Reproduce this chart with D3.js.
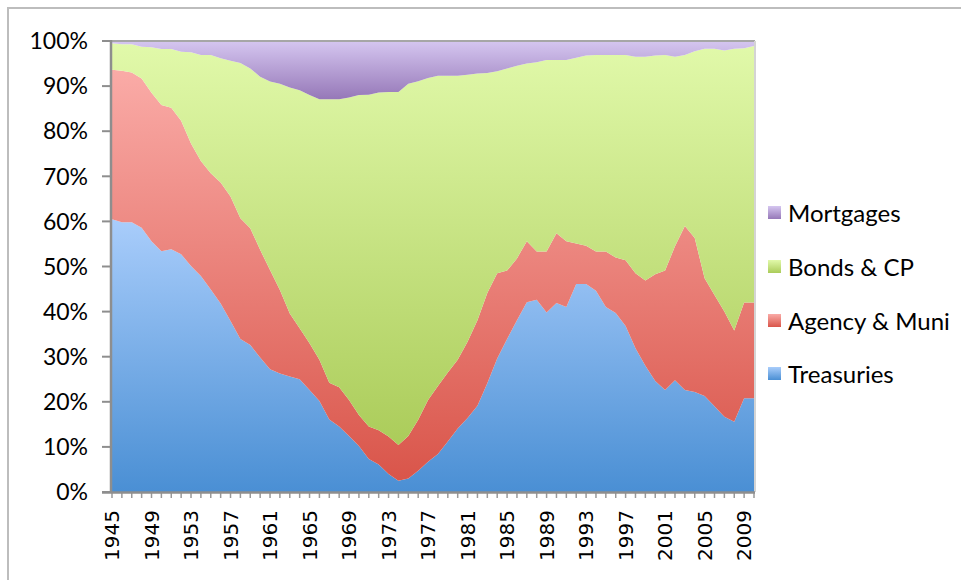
<!DOCTYPE html>
<html>
<head>
<meta charset="utf-8">
<script src="https://cdn.jsdelivr.net/npm/d3@7"></script>
<style>
body{margin:0;background:#fff;}
</style>
</head>
<body>
<script>
var w = 961;
var h = 580;

var years = d3.range(1945, 2011);
var tickYears = [1945,1949,1953,1957,1961,1965,1969,1973,1977,1981,1985,1989,1993,1997,2001,2005,2009];
var yTicks = [0,10,20,30,40,50,60,70,80,90,100];
var seriesNames = ["Treasuries","Agency & Muni","Bonds & CP","Mortgages"];

// shares in % per year, 1945..2010
var treasuries = [60.5,59.8,59.8,58.6,55.6,53.4,53.8,52.7,50.1,47.9,44.9,41.8,37.9,33.9,32.6,29.8,27.2,26.3,25.6,25.0,
  22.6,20.2,16.1,14.5,12.4,10.2,7.3,6.1,4.0,2.5,3.0,4.7,6.7,8.4,11.2,14.1,16.4,19.1,24.1,29.6,
  33.9,38.1,42.1,42.6,39.8,41.9,41.0,46.1,46.1,44.6,41.0,39.7,36.8,31.9,28.0,24.6,22.6,24.8,22.6,22.2,
  21.3,19.0,16.7,15.6,20.8,20.8];
var agencyMuni = [33.1,33.6,33.2,33.1,32.9,32.4,31.4,29.6,27.2,25.5,25.8,26.8,27.6,26.8,25.9,23.9,22.0,18.5,14.0,11.3,
  10.4,9.1,8.1,8.7,8.0,6.9,7.2,7.6,8.3,7.9,9.4,11.3,13.7,15.1,15.3,15.2,16.9,19.0,20.0,18.9,
  15.2,13.7,13.5,10.7,13.5,15.5,14.6,9.0,8.5,8.7,12.3,12.3,14.6,16.6,18.9,23.7,26.5,29.7,36.4,34.1,
  26.1,24.7,23.3,20.2,21.2,21.2];
var bondsCP = [5.9,5.9,6.3,7.0,10.1,12.4,13.0,15.3,20.2,23.5,26.2,27.6,30.1,34.4,35.4,38.4,41.8,45.7,50.1,52.8,
  55.0,57.8,62.9,63.9,67.1,70.9,73.6,74.9,76.4,78.3,78.1,75.1,71.4,68.8,65.8,63.0,59.2,54.7,48.8,44.8,
  44.8,42.7,39.4,42.0,42.5,38.4,40.2,41.2,42.2,43.6,43.6,44.9,45.5,48.0,49.6,48.5,47.8,42.0,37.9,41.4,
  50.9,54.6,57.9,62.5,56.4,56.9];
var mortgages = [0.5,0.7,0.7,1.3,1.4,1.8,1.8,2.4,2.5,3.1,3.1,3.8,4.4,4.9,6.1,7.9,9.0,9.5,10.3,10.9,
  12.0,12.9,12.9,12.9,12.5,12.0,11.9,11.4,11.3,11.3,9.5,8.9,8.2,7.7,7.7,7.7,7.5,7.2,7.1,6.7,
  6.1,5.5,5.0,4.7,4.2,4.2,4.2,3.7,3.2,3.1,3.1,3.1,3.1,3.5,3.5,3.2,3.1,3.5,3.1,2.3,
  1.7,1.7,2.1,1.7,1.6,1.1];

var colorsTop = ["#a9cdfb","#faaba7","#e1f9aa","#d5c6f0"];
var colorsBottom = ["#4a8fd4","#d9554a","#abcc5a","#9678b8"];

var rows = years.map(function(yr, i){
    return {"year": yr, "Treasuries": treasuries[i], "Agency & Muni": agencyMuni[i],
            "Bonds & CP": bondsCP[i], "Mortgages": mortgages[i]};
});

var pLeft = 112, pRight = 754, pTop = 41, pBottom = 492;

var svg = d3.select("body")
            .append("svg")
            .attr("width", w)
            .attr("height", h);

var defs = svg.append("defs");
seriesNames.forEach(function(n, i){
    var g = defs.append("linearGradient")
        .attr("id", "grad" + i)
        .attr("x1", 0).attr("y1", 0).attr("x2", 0).attr("y2", 1);
    g.append("stop").attr("offset", "0%").attr("stop-color", colorsTop[i]);
    g.append("stop").attr("offset", "100%").attr("stop-color", colorsBottom[i]);
});

// outer frame
svg.append("rect")
    .attr("x", 8).attr("y", 8)
    .attr("width", 1000).attr("height", 1000)
    .attr("fill", "none")
    .attr("stroke", "#bdbdbd")
    .attr("stroke-width", 2);

var x = d3.scaleLinear().domain([1945, 2010]).range([pLeft, pRight]);
var y = d3.scaleLinear().domain([0, 1]).range([pBottom, pTop]);

var stack = d3.stack().keys(seriesNames).offset(d3.stackOffsetExpand);
var layers = stack(rows);

var area = d3.area()
    .x(function(d){ return x(d.data.year); })
    .y0(function(d){ return y(d[0]); })
    .y1(function(d){ return y(d[1]); });

svg.append("g")
    .selectAll("path")
    .data(layers)
    .enter()
    .append("path")
    .attr("d", area)
    .attr("fill", function(d, i){ return "url(#grad" + i + ")"; });

// plot border
svg.append("line")
    .attr("x1", pLeft).attr("x2", pRight + 1)
    .attr("y1", pTop).attr("y2", pTop)
    .attr("stroke", "#a6a6a6").attr("stroke-width", 2);
svg.append("line")
    .attr("x1", pRight + 1).attr("x2", pRight + 1)
    .attr("y1", pTop).attr("y2", pBottom)
    .attr("stroke", "#d4d4d4").attr("stroke-width", 2);

// y axis
var yAxis = svg.append("g");
yAxis.append("line")
    .attr("x1", pLeft - 1).attr("x2", pLeft - 1)
    .attr("y1", pTop - 1).attr("y2", pBottom + 1)
    .attr("stroke", "#8e8e8e").attr("stroke-width", 2.5);
yAxis.selectAll(".tk")
    .data(yTicks)
    .enter()
    .append("line")
    .attr("x1", pLeft - 10).attr("x2", pLeft - 1)
    .attr("y1", function(d){ return y(d / 100); })
    .attr("y2", function(d){ return y(d / 100); })
    .attr("stroke", "#8e8e8e").attr("stroke-width", 2);
yAxis.selectAll("text")
    .data(yTicks)
    .enter()
    .append("text")
    .attr("x", 88)
    .attr("y", function(d){ return y(d / 100); })
    .attr("dy", "0.36em")
    .attr("text-anchor", "end")
    .attr("font-family", "Lato, sans-serif")
    .attr("font-size", 23)
    .attr("fill", "#000")
    .text(function(d){ return d + "%"; });

// x axis
var xAxis = svg.append("g");
xAxis.selectAll(".tk")
    .data(years)
    .enter()
    .append("line")
    .attr("x1", function(d){ return x(d); })
    .attr("x2", function(d){ return x(d); })
    .attr("y1", pBottom).attr("y2", pBottom + 6)
    .attr("stroke", "#9a9a9a").attr("stroke-width", 1.5);
xAxis.append("line")
    .attr("x1", pLeft - 10).attr("x2", pRight + 1)
    .attr("y1", pBottom + 0.5).attr("y2", pBottom + 0.5)
    .attr("stroke", "#8e8e8e").attr("stroke-width", 2.5);
xAxis.selectAll("text")
    .data(tickYears)
    .enter()
    .append("text")
    .attr("transform", function(d){ return "translate(" + x(d) + "," + 510 + ") rotate(-90)"; })
    .attr("dy", "0.36em")
    .attr("text-anchor", "end")
    .attr("font-family", "'DejaVu Sans', sans-serif")
    .attr("font-size", 20)
    .attr("fill", "#000")
    .text(function(d){ return d; });

// legend
var legendY = [374, 321, 267, 213];
var legend = svg.append("g")
    .selectAll("g")
    .data(seriesNames)
    .enter()
    .append("g")
    .attr("transform", function(d, i){ return "translate(768," + legendY[i] + ")"; });
legend.append("rect")
    .attr("x", 0).attr("y", -7)
    .attr("width", 13).attr("height", 13)
    .attr("fill", function(d, i){ return "url(#grad" + i + ")"; });
legend.append("text")
    .attr("x", 20)
    .attr("dy", "0.36em")
    .attr("font-family", "Lato, sans-serif")
    .attr("font-size", 24)
    .attr("fill", "#000")
    .text(function(d){ return d; });
</script>
</body>
</html>
